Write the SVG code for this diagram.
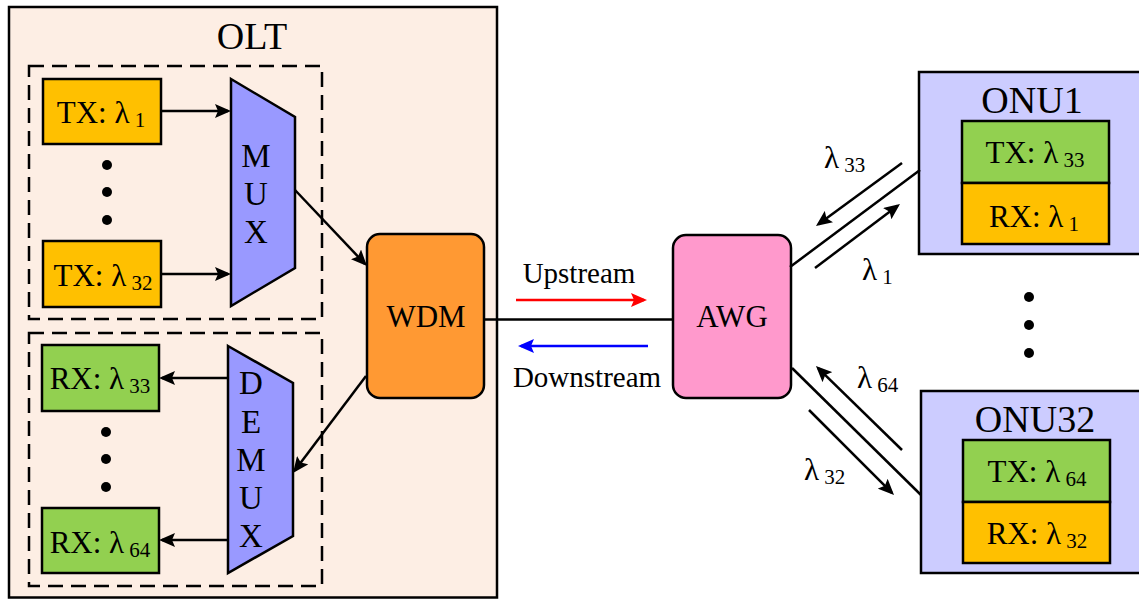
<svg xmlns="http://www.w3.org/2000/svg" width="1139" height="599" viewBox="0 0 1139 599">
  <defs>
    <marker id="ah" markerUnits="userSpaceOnUse" markerWidth="16" markerHeight="14" refX="13" refY="7" orient="auto">
      <path d="M0,0 L16,7 L0,14 L3,7 z" fill="#000"/>
    </marker>
    <marker id="ah-red" markerUnits="userSpaceOnUse" markerWidth="16" markerHeight="14" refX="13" refY="7" orient="auto">
      <path d="M0,0 L16,7 L0,14 L3,7 z" fill="#FF0000"/>
    </marker>
    <marker id="ah-blue" markerUnits="userSpaceOnUse" markerWidth="16" markerHeight="14" refX="13" refY="7" orient="auto">
      <path d="M0,0 L16,7 L0,14 L3,7 z" fill="#0000FF"/>
    </marker>
  </defs>
  <style>
    text { font-family: "Liberation Serif", "Times New Roman", serif; fill: #000; }
    .lbl { font-size: 31px; text-anchor: middle; }
    .ltr { font-size: 33px; text-anchor: middle; }
    .big { font-size: 38px; text-anchor: middle; }
    .sub { font-size: 21px; }
    .box { stroke: #000; stroke-width: 2.5; }
    .dash { fill: none; stroke: #000; stroke-width: 2.5; stroke-dasharray: 15 8; }
    .tx { fill: #FFC000; }
    .rx { fill: #92D050; }
    .mux { fill: #9999FF; stroke: #000; stroke-width: 2.5; stroke-linejoin: miter; }
    .onu { fill: #CCCCFF; }
    .wire { stroke: #000; stroke-width: 2.5; fill: none; }
    .arr { stroke: #000; stroke-width: 2.5; fill: none; marker-end: url(#ah); }
    .dot { fill: #000; }
  </style>

  <!-- Optical line terminal enclosure -->
  <g id="olt">
    <rect x="9" y="7" width="488" height="590.5" fill="#FDEEE4" class="box"/>
    <text class="big" x="252" y="49">OLT</text>
  </g>

  <!-- Transmitter bank -->
  <g id="tx-group">
    <rect class="dash" x="29" y="66" width="293" height="253"/>
  </g>
  <g id="tx1">
    <rect class="box tx" x="43" y="79" width="118" height="65"/>
    <text class="lbl" x="101" y="123">TX: λ<tspan class="sub" dy="4"> 1</tspan></text>
  </g>
  <g id="tx-dots">
    <circle class="dot" cx="107" cy="165" r="5"/>
    <circle class="dot" cx="107" cy="192" r="5"/>
    <circle class="dot" cx="107" cy="220" r="5"/>
  </g>
  <g id="tx32">
    <rect class="box tx" x="43" y="241" width="118" height="66"/>
    <text class="lbl" x="103" y="286">TX: λ<tspan class="sub" dy="4"> 32</tspan></text>
  </g>
  <g id="mux">
    <polygon class="mux" points="231,79 295,117 295,268 231,306"/>
    <text class="ltr" x="256" y="167">M</text>
    <text class="ltr" x="256" y="205">U</text>
    <text class="ltr" x="256" y="243">X</text>
  </g>

  <!-- Receiver bank -->
  <g id="rx-group">
    <rect class="dash" x="29" y="333" width="293" height="253"/>
  </g>
  <g id="rx33">
    <rect class="box rx" x="42" y="345" width="117" height="66"/>
    <text class="lbl" x="100" y="389">RX: λ<tspan class="sub" dy="4"> 33</tspan></text>
  </g>
  <g id="rx-dots">
    <circle class="dot" cx="106" cy="432" r="5"/>
    <circle class="dot" cx="106" cy="459" r="5"/>
    <circle class="dot" cx="106" cy="487" r="5"/>
  </g>
  <g id="rx64">
    <rect class="box rx" x="42" y="508" width="117" height="65"/>
    <text class="lbl" x="100" y="553">RX: λ<tspan class="sub" dy="4"> 64</tspan></text>
  </g>
  <g id="demux">
    <polygon class="mux" points="228,346 293,383 293,536 228,573"/>
    <text class="ltr" x="251" y="394">D</text>
    <text class="ltr" x="251" y="433">E</text>
    <text class="ltr" x="251" y="471">M</text>
    <text class="ltr" x="251" y="509">U</text>
    <text class="ltr" x="251" y="547">X</text>
  </g>

  <!-- Wavelength multiplexer / splitter -->
  <g id="wdm">
    <rect class="box" x="367" y="234" width="117" height="164" rx="13" fill="#FF9933"/>
    <text class="lbl" x="426" y="327">WDM</text>
  </g>
  <g id="awg">
    <rect class="box" x="673" y="235" width="118" height="163" rx="13" fill="#FF99CC"/>
    <text class="lbl" x="732" y="327">AWG</text>
  </g>

  <!-- Subscriber units -->
  <g id="onu1">
    <rect class="box onu" x="919" y="72" width="230" height="182"/>
    <text class="big" x="1032" y="113">ONU1</text>
    <rect class="box rx" x="962" y="121" width="147" height="62"/>
    <text class="lbl" x="1035" y="163">TX: λ<tspan class="sub" dy="4"> 33</tspan></text>
    <rect class="box tx" x="962" y="183" width="147" height="61"/>
    <text class="lbl" x="1034" y="227">RX: λ<tspan class="sub" dy="4"> 1</tspan></text>
  </g>
  <g id="onu-dots">
    <circle class="dot" cx="1029" cy="297" r="5"/>
    <circle class="dot" cx="1029" cy="325" r="5"/>
    <circle class="dot" cx="1029" cy="353" r="5"/>
  </g>
  <g id="onu32">
    <rect class="box onu" x="921" y="391" width="230" height="182"/>
    <text class="big" x="1035" y="432">ONU32</text>
    <rect class="box rx" x="963" y="440" width="147" height="62"/>
    <text class="lbl" x="1037" y="482">TX: λ<tspan class="sub" dy="4"> 64</tspan></text>
    <rect class="box tx" x="963" y="502" width="147" height="61"/>
    <text class="lbl" x="1037" y="544">RX: λ<tspan class="sub" dy="4"> 32</tspan></text>
  </g>

  <!-- Connectors -->
  <g id="connectors">
    <line class="arr" x1="161" y1="111" x2="228" y2="111"/>
    <line class="arr" x1="161" y1="274" x2="228" y2="274"/>
    <line class="arr" x1="295" y1="190" x2="364.9" y2="263.8"/>
    <line class="arr" x1="366" y1="376" x2="294.8" y2="470.6"/>
    <line class="arr" x1="228" y1="378" x2="162" y2="378"/>
    <line class="arr" x1="228" y1="540" x2="162" y2="540"/>

    <line class="wire" x1="484" y1="319.5" x2="673" y2="319.5"/>
    <line x1="516" y1="300" x2="644" y2="300" stroke="#FF0000" stroke-width="2.5" marker-end="url(#ah-red)"/>
    <line x1="648" y1="346" x2="521" y2="346" stroke="#0000FF" stroke-width="2.5" marker-end="url(#ah-blue)"/>

    <line class="wire" x1="790" y1="267" x2="920" y2="170"/>
    <line class="arr" x1="902" y1="163" x2="818.4" y2="224.2"/>
    <line class="arr" x1="815" y1="268" x2="897.6" y2="205.8"/>

    <line class="wire" x1="792" y1="368" x2="921" y2="495"/>
    <line class="arr" x1="902" y1="450" x2="818.1" y2="368.1"/>
    <line class="arr" x1="809" y1="410" x2="891.9" y2="492.9"/>
  </g>

  <!-- Link and direction labels -->
  <g id="labels">
    <text x="579" y="283" style="font-size:29px;text-anchor:middle">Upstream</text>
    <text x="587" y="387" style="font-size:29px;text-anchor:middle">Downstream</text>
    <text x="824" y="168" style="font-size:31px">λ<tspan class="sub" dy="4"> 33</tspan></text>
    <text x="862" y="280" style="font-size:31px">λ<tspan class="sub" dy="4"> 1</tspan></text>
    <text x="857" y="388" style="font-size:31px">λ<tspan class="sub" dy="4"> 64</tspan></text>
    <text x="804" y="480" style="font-size:31px">λ<tspan class="sub" dy="4"> 32</tspan></text>
  </g>
</svg>
